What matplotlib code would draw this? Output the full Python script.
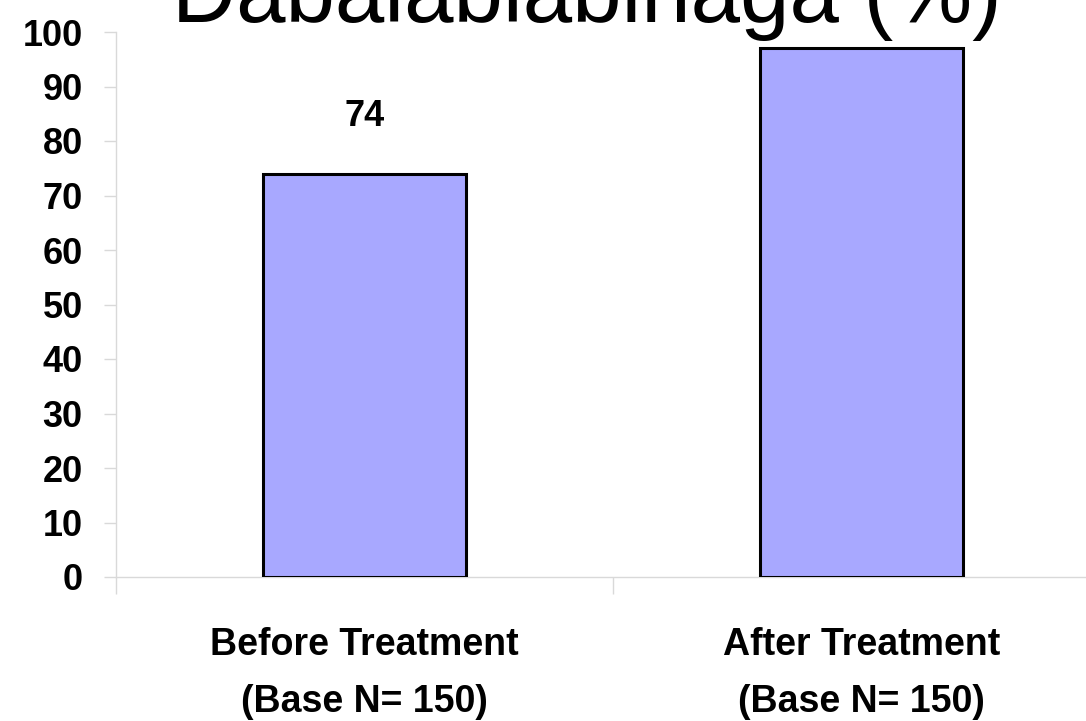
import numpy as np
import matplotlib
matplotlib.use('Agg')
from matplotlib import pyplot as plt

# values
categories = ['Before Treatment\n(Base N= 150)', 'After Treatment\n(Base N= 150)']
values = [74, 97]
yticks = list(range(0, 101, 10))
title = 'Dabalablabinaga (%)'

BAR_COLOR = '#A8A8FF'
AXIS_GREY = '#D9D9D9'
YMAX = 100

plt.rcParams['font.family'] = ['Liberation Sans', 'DejaVu Sans']

fig = plt.figure(figsize=(10.86, 7.21), dpi=100)
ax = fig.add_axes([116/1086, 1 - 577/721, 994/1086, 545/721])

x = np.arange(len(values)) + 0.5
ax.bar(x, values, width=0.41, color=BAR_COLOR, edgecolor='black', linewidth=2.2, zorder=3)

# value labels sit one gridstep above each bar; the one past the top is not shown
for xi, v in zip(x, values):
    if v + 10.5 > YMAX:
        continue
    ax.text(xi, v + 10.5, str(v), ha='center', va='center', fontsize=26,
            fontweight='bold')

ax.set_xlim(0, 2)
ax.set_ylim(0, YMAX)

# separator ticks between categories, labels in the middle
ax.set_xticks([0, 1, 2])
ax.set_xticklabels([])
ax.set_xticks(x, minor=True)
ax.set_xticklabels(categories, minor=True, fontsize=27, fontweight='bold', linespacing=1.75)
ax.tick_params(axis='x', which='major', length=12, width=1, color=AXIS_GREY, direction='out')
ax.tick_params(axis='x', which='minor', length=0, pad=36)

ax.set_yticks(yticks)
ax.set_yticklabels([str(t) for t in yticks], fontsize=26, fontweight='bold')
ax.tick_params(axis='y', length=9, width=1, color=AXIS_GREY, pad=15)

for side in ['top', 'right']:
    ax.spines[side].set_visible(False)
for side in ['left', 'bottom']:
    ax.spines[side].set_color(AXIS_GREY)
    ax.spines[side].set_linewidth(1)

fig.text(172/1086, 1 - 22/721, title, ha='left', va='baseline', fontsize=64)

fig.savefig('out.png', dpi=100)
